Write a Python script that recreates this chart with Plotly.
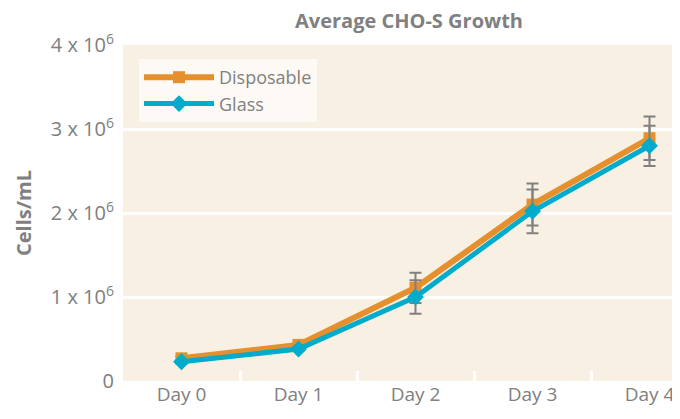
import plotly.graph_objects as go

days = ["Day 0", "Day 1", "Day 2", "Day 3", "Day 4"]
disposable = [0.27e6, 0.43e6, 1.11e6, 2.1e6, 2.89e6]
disposable_err = [0.02e6, 0.02e6, 0.18e6, 0.25e6, 0.26e6]
glass = [0.23e6, 0.38e6, 1.0e6, 2.02e6, 2.8e6]
glass_err = [0.02e6, 0.02e6, 0.2e6, 0.26e6, 0.24e6]
ytick_vals = [0, 1e6, 2e6, 3e6, 4e6]
ytick_text = ["0", "1 x 10<sup>6</sup>", "2 x 10<sup>6</sup>", "3 x 10<sup>6</sup>", "4 x 10<sup>6</sup>"]
category_edges = [0.5, 1.5, 2.5, 3.5]

GRAY = "#808080"
ORANGE = "#E58F2D"
BLUE = "#00ABCC"
FONT = "Open Sans"

# page body has an 8px default margin; work in figure coords = reference - 8
W, H = 672, 411
PL, PR, PT, PB = 115, 672, 37, 373

xpos = list(range(len(days)))

fig = go.Figure()
fig.add_trace(go.Scatter(
    x=xpos, y=disposable, name="Disposable", mode="lines+markers",
    line=dict(color=ORANGE, width=6),
    marker=dict(symbol="square", size=12, color=ORANGE),
    error_y=dict(type="data", array=disposable_err, color=GRAY, thickness=2, width=6),
))
fig.add_trace(go.Scatter(
    x=xpos, y=glass, name="Glass", mode="lines+markers",
    line=dict(color=BLUE, width=5),
    marker=dict(symbol="diamond", size=13, color=BLUE),
    error_y=dict(type="data", array=glass_err, color=GRAY, thickness=2, width=6),
))

fig.add_annotation(
    text="<b>Average CHO-S Growth</b>", xref="paper", yref="paper",
    x=(401 - PL) / (PR - PL), y=1 + (PT - 12) / (PB - PT), xanchor="center", yanchor="middle",
    showarrow=False, font=dict(size=20, color=GRAY, family=FONT),
)

fig.update_layout(
    width=W, height=H,
    margin=dict(l=PL, r=W - PR, t=PT, b=H - PB, autoexpand=False),
    paper_bgcolor="white",
    plot_bgcolor="#F8F0E3",
    font=dict(family=FONT, color=GRAY, size=19),
    showlegend=True,
    legend=dict(x=(131 - PL) / (PR - PL), y=(PB - 51) / (PB - PT), xanchor="left", yanchor="top",
                bgcolor="rgba(255,255,255,0.65)", font=dict(size=18, color=GRAY),
                borderwidth=0, tracegroupgap=0, itemwidth=70),
    xaxis=dict(range=[-0.5, -0.5 + (PR - PL) / 117], tickvals=xpos, ticktext=days,
               showgrid=False, zeroline=False, showline=False, ticks="",
               tickfont=dict(size=19, color=GRAY),
               minor=dict(tickvals=category_edges, ticks="inside", ticklen=10,
                          tickcolor="white", tickwidth=3, showgrid=False)),
    yaxis=dict(range=[0, 4e6], tickvals=ytick_vals, ticktext=ytick_text,
               showgrid=True, gridcolor="white", gridwidth=3, zeroline=False,
               showline=False, ticks="", ticklabelstandoff=8,
               tickfont=dict(size=20, color=GRAY),
               title=dict(text="<b>Cells/mL</b>", font=dict(size=20, color=GRAY), standoff=13)),
)

fig.write_html("out.html")
